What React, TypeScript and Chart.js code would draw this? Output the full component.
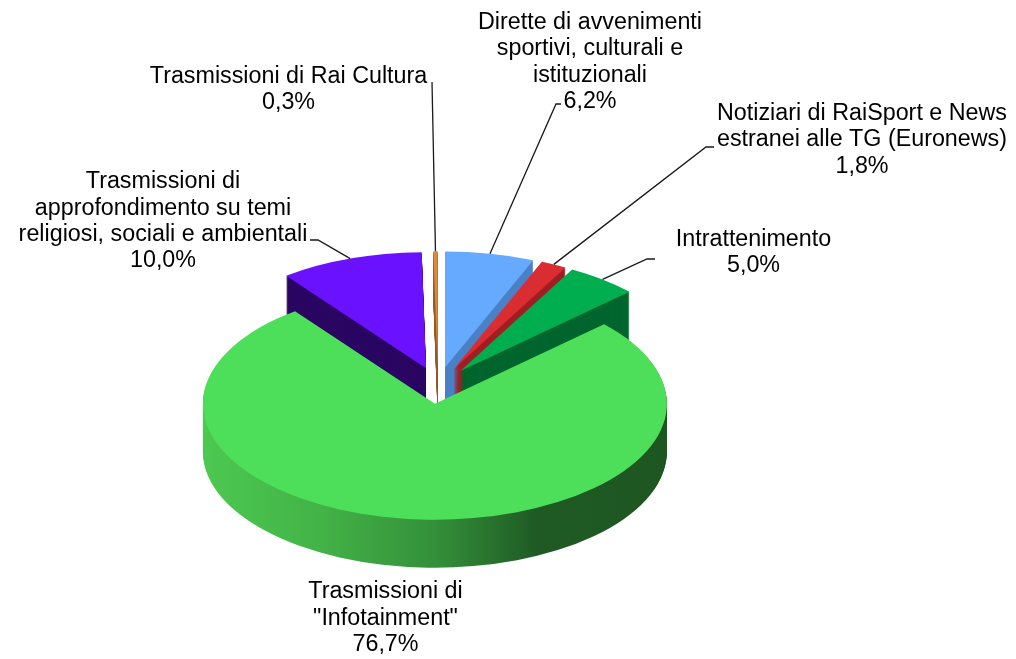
import React, { useEffect, useRef } from 'react';
import { Chart, registerables } from 'chart.js';

Chart.register(...registerables);

// ---------- data ----------
const categories = [
  'Dirette di avvenimenti sportivi, culturali e istituzionali',
  'Notiziari di RaiSport e News estranei alle TG (Euronews)',
  'Intrattenimento',
  'Trasmissioni di "Infotainment"',
  'Trasmissioni di approfondimento su temi religiosi, sociali e ambientali',
  'Trasmissioni di Rai Cultura',
];
const values = [6.2, 1.8, 5.0, 76.7, 10.0, 0.3];
const labelLines = [
  ['Dirette di avvenimenti', 'sportivi, culturali e', 'istituzionali'],
  ['Notiziari di RaiSport e News', 'estranei alle TG (Euronews)'],
  ['Intrattenimento'],
  ['Trasmissioni di', '"Infotainment"'],
  ['Trasmissioni di', 'approfondimento su temi', 'religiosi, sociali e ambientali'],
  ['Trasmissioni di Rai Cultura'],
];

// ---------- styles / layout ----------
const topColors = ['#66aaff', '#d92d31', '#00ae4f', '#4ddf5a', '#6a12ff', '#e0883a'];
const sideColors = ['#4a80c6', '#a01e22', '#00662e', 'GRADIENT', '#2a0662', '#9a5a20'];
const W = 1016;
const H = 659;
const RADIUS = 232;
const SQ = 0.5; // vertical squash of the tilted disc
const CY_SCREEN = 385.5;
const EXPLODE = 36.5;
const DEPTH = 48;
const FONT = '23.3px "Liberation Sans", Arial, Helvetica, sans-serif';
const LINE_H = 26.4;
// label anchor: centre x, first baseline y; leader: elbow & end points (or null)
const labelPos = [
  { x: 590, y: 28.8, leader: [[556, 104], [561, 104]] },
  { x: 862, y: 119.8, leader: [[706, 147], [714, 147]] },
  { x: 753.5, y: 245.8, leader: [[647, 259], [655, 259]] },
  { x: 385.5, y: 598.2, leader: null },
  { x: 163, y: 188.2, leader: [[318, 240], [310, 240]] },
  { x: 288.5, y: 82.8, leader: [[432, 82]] },
];

function fmtPct(v: number) {
  return v.toFixed(1).replace('.', ',') + '%';
}

function getGeo(chart: any) {
  const meta = chart.getDatasetMeta(0);
  return meta.data.map((a: any) => {
    const p = a.getProps(['x', 'y', 'startAngle', 'endAngle', 'outerRadius'], true);
    const mid = (p.startAngle + p.endAngle) / 2;
    return {
      X: p.x + Math.cos(mid) * EXPLODE,
      Y: CY_SCREEN + Math.sin(mid) * EXPLODE * SQ,
      r: p.outerRadius,
      a0: p.startAngle,
      a1: p.endAngle,
      mid,
    };
  });
}

const pie3d = {
  id: 'pie3d',
  beforeDatasetsDraw(chart: any) {
    const ctx: CanvasRenderingContext2D = chart.ctx;
    const geo = getGeo(chart);
    const path = (g: any, t: number) => {
      ctx.beginPath();
      ctx.moveTo(g.X, g.Y + t);
      ctx.ellipse(g.X, g.Y + t, g.r, g.r * SQ, 0, g.a0, g.a1);
      ctx.closePath();
    };
    const sideFill = (i: number, g: any) => {
      if (sideColors[i] !== 'GRADIENT') return sideColors[i];
      const gr = ctx.createLinearGradient(g.X - g.r, 0, g.X + g.r, 0);
      gr.addColorStop(0, '#4cc951');
      gr.addColorStop(0.25, '#43b347');
      gr.addColorStop(0.5, '#34903a');
      gr.addColorStop(0.72, '#1f5a24');
      gr.addColorStop(1, '#1e5622');
      return gr;
    };
    ctx.save();
    const fills = geo.map((g: any, i: number) => sideFill(i, g));
    for (let t = DEPTH; t >= 1; t--) {
      geo.forEach((g: any, i: number) => {
        path(g, t);
        ctx.fillStyle = fills[i];
        ctx.fill();
      });
    }
    geo.forEach((g: any, i: number) => {
      path(g, 0);
      ctx.fillStyle = topColors[i];
      ctx.fill();
    });
    ctx.restore();
    return false;
  },
};

const labelsPlugin = {
  id: 'pieLabels',
  afterDraw(chart: any) {
    const ctx: CanvasRenderingContext2D = chart.ctx;
    const geo = getGeo(chart);
    ctx.save();
    ctx.strokeStyle = '#1a1a1a';
    ctx.lineWidth = 1.3;
    geo.forEach((g: any, i: number) => {
      const lp = labelPos[i];
      if (!lp.leader) return;
      const sx = g.X + Math.cos(g.mid) * g.r;
      const sy = g.Y + Math.sin(g.mid) * g.r * SQ;
      ctx.beginPath();
      ctx.moveTo(sx, sy);
      lp.leader.forEach((pt) => ctx.lineTo(pt[0], pt[1]));
      ctx.stroke();
    });
    ctx.fillStyle = '#000';
    ctx.font = FONT;
    ctx.textAlign = 'center';
    ctx.textBaseline = 'alphabetic';
    values.forEach((v, i) => {
      const lines = [...labelLines[i], fmtPct(v)];
      const lp = labelPos[i];
      lines.forEach((ln, k) => ctx.fillText(ln, lp.x, lp.y + k * LINE_H));
    });
    ctx.restore();
  },
};

export default function App() {
  const ref = useRef<HTMLCanvasElement>(null);
  useEffect(() => {
    if (!ref.current) return;
    const chart = new Chart(ref.current, {
      type: 'pie',
      data: {
        labels: categories,
        datasets: [
          {
            data: values,
            backgroundColor: topColors,
            borderWidth: 0,
            clip: false,
          } as any,
        ],
      },
      options: {
        responsive: false,
        animation: false,
        radius: RADIUS,
        layout: { padding: { left: 0, right: 140, top: 0, bottom: 0 } },
        plugins: { legend: { display: false }, tooltip: { enabled: false } },
      } as any,
      plugins: [pie3d, labelsPlugin],
    });
    return () => chart.destroy();
  }, []);
  return (
    <div style={{ position: 'absolute', left: 0, top: 0, width: W, height: H, background: '#fff' }}>
      <canvas ref={ref} width={W} height={H} style={{ display: 'block', width: W, height: H }} />
    </div>
  );
}
